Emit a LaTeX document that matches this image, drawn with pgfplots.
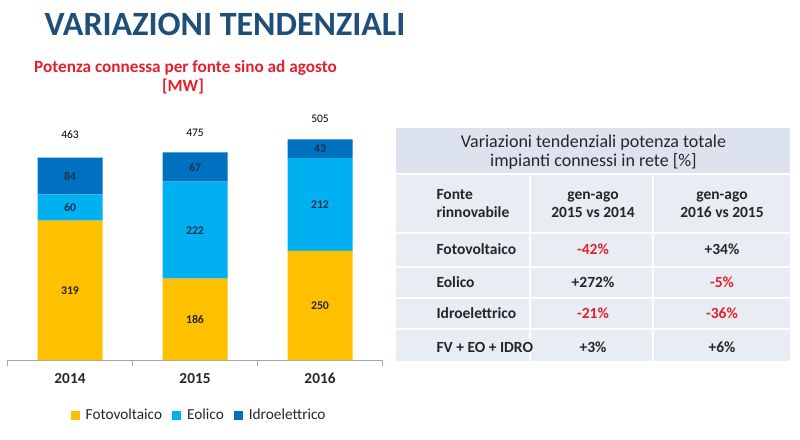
\documentclass[border=0pt]{standalone}
\usepackage{pgfplots}
\usepackage{pgfplotstable}
\pgfplotsset{compat=1.18}
\usepackage{fontspec}
\setmainfont{Carlito}

\definecolor{fv}{HTML}{FFC000}
\definecolor{eo}{HTML}{00B0F0}
\definecolor{idro}{HTML}{0070C0}
\definecolor{titolo}{HTML}{1F4E79}
\definecolor{rosso}{HTML}{E3202B}
\definecolor{testo}{HTML}{262626}
\definecolor{navy}{HTML}{1F3050}
\definecolor{tabhead}{HTML}{DCE3EE}
\definecolor{tabbody}{HTML}{E8ECF3}

% potenza connessa gen-ago [MW]; ytot = quota a cui sta l'etichetta del totale
\pgfplotstableread{
x fv eo idro tot ytot
0 319 60 84 463 515
1 186 222 67 475 519.5
2 250 212 43 505 551.5
}\dati

\pgfplotsset{
  geom/.style={at={(7.5pt,79pt)}, anchor=south west, scale only axis,
    width=375pt, height=244.7pt, xmin=-0.5, xmax=2.5, ymin=0, ymax=560},
}

\begin{document}
\begin{tikzpicture}
\useasboundingbox (0,0) rectangle (800pt,439pt);

\begin{axis}[
  geom,
  ybar stacked, bar width=65pt,
  axis x line=bottom, axis y line=none,
  x axis line style={draw=black!35, -},
  xtick={0,1,2}, xticklabels={2014,2015,2016},
  major tick length=0pt,
  extra x ticks={-0.5,0.5,1.5,2.5}, extra x tick labels={},
  extra x tick style={major tick length=6pt, tick align=outside, tick style={draw=black!35}},
  xticklabel style={font=\fontsize{15.3}{18}\selectfont\bfseries, text=testo, yshift=-10pt},
  legend columns=3,
  legend style={at={(0.511,-0.225)}, anchor=center, draw=none, fill=none,
    font=\fontsize{15.3}{18}\selectfont, text=testo,
    /tikz/every odd column/.append style={column sep=4pt},
    /tikz/every even column/.append style={column sep=8pt}},
  legend image code/.code={\fill[#1] (0pt,-4.5pt) rectangle (9pt,4.5pt);},
]
\addplot[fill=fv, draw=none] table[x=x, y=fv] {\dati};
\addplot[fill=eo, draw=none] table[x=x, y=eo] {\dati};
\addplot[fill=idro, draw=none] table[x=x, y=idro] {\dati};
\legend{Fotovoltaico, Eolico, Idroelettrico}
\end{axis}

% etichette dei valori
\begin{axis}[
  geom, hide axis, clip=false,
  /pgf/number format/assume math mode=true,
  nodes near coords, point meta=explicit,
  every node near coord/.append style={anchor=center, font=\fontsize{11.8}{14}\selectfont\bfseries},
]
\addplot[draw=none, every node near coord/.append style={text=testo}]
  table[x=x, y expr=\thisrow{fv}/2, meta=fv] {\dati};
\addplot[draw=none, every node near coord/.append style={text=navy}]
  table[x=x, y expr=\thisrow{fv}+\thisrow{eo}/2, meta=eo] {\dati};
\addplot[draw=none, every node near coord/.append style={text=navy}]
  table[x=x, y expr=\thisrow{fv}+\thisrow{eo}+\thisrow{idro}/2, meta=idro] {\dati};
\addplot[draw=none, every node near coord/.append style={text=black, font=\fontsize{11.5}{14}\selectfont}]
  table[x=x, y=ytot, meta=tot] {\dati};
\end{axis}

\begin{scope}[x=1pt, y=-1pt, shift={(0pt,439pt)}]
  % titoli
  \node[font=\fontsize{34}{40}\selectfont\bfseries, text=titolo] at (225,24) {VARIAZIONI TENDENZIALI};
  \node[anchor=base, font=\fontsize{17.2}{20}\selectfont\bfseries, text=rosso] at (185.5,73) {Potenza connessa per fonte sino ad agosto};
  \node[anchor=base, font=\fontsize{17.2}{20}\selectfont\bfseries, text=rosso] at (183,92) {[MW]};

  % tabella
  \fill[tabbody] (396,128) rectangle (790,361);
  \fill[tabhead] (396,128) rectangle (790,174);
  \foreach \yy in {174,233,267,298,329} \draw[white, line width=1.6pt] (396,\yy) -- (790,\yy);
  \foreach \xx in {530,653} \draw[white, line width=1.6pt] (\xx,174) -- (\xx,361);

  \begin{scope}[every node/.style={text=testo, font=\fontsize{18}{21}\selectfont}]
    \node[anchor=base] at (593.5,148) {Variazioni tendenziali potenza totale};
    \node[anchor=base] at (593.5,167) {impianti connessi in rete [\%]};
  \end{scope}

  \begin{scope}[every node/.style={text=testo, font=\fontsize{15.5}{18}\selectfont\bfseries}]
    \node[anchor=base west] at (433,200) {Fonte};
    \node[anchor=base west] at (433,218) {rinnovabile};
    \node[anchor=base] at (593,200) {gen-ago};
    \node[anchor=base] at (593,218) {2015 vs 2014};
    \node[anchor=base] at (722,200) {gen-ago};
    \node[anchor=base] at (722,218) {2016 vs 2015};

    \node[anchor=base west] at (433,255) {Fotovoltaico};
    \node[anchor=base west] at (433,288) {Eolico};
    \node[anchor=base west] at (433,319) {Idroelettrico};
    \node[anchor=base west] at (433,353) {FV + EO + IDRO};

    \node[anchor=base, text=rosso] at (593,255) {-42\%};
    \node[anchor=base] at (593,288) {+272\%};
    \node[anchor=base, text=rosso] at (593,319) {-21\%};
    \node[anchor=base] at (593,353) {+3\%};

    \node[anchor=base] at (722,255) {+34\%};
    \node[anchor=base, text=rosso] at (722,288) {-5\%};
    \node[anchor=base, text=rosso] at (722,319) {-36\%};
    \node[anchor=base] at (722,353) {+6\%};
  \end{scope}
\end{scope}
\end{tikzpicture}
\end{document}
